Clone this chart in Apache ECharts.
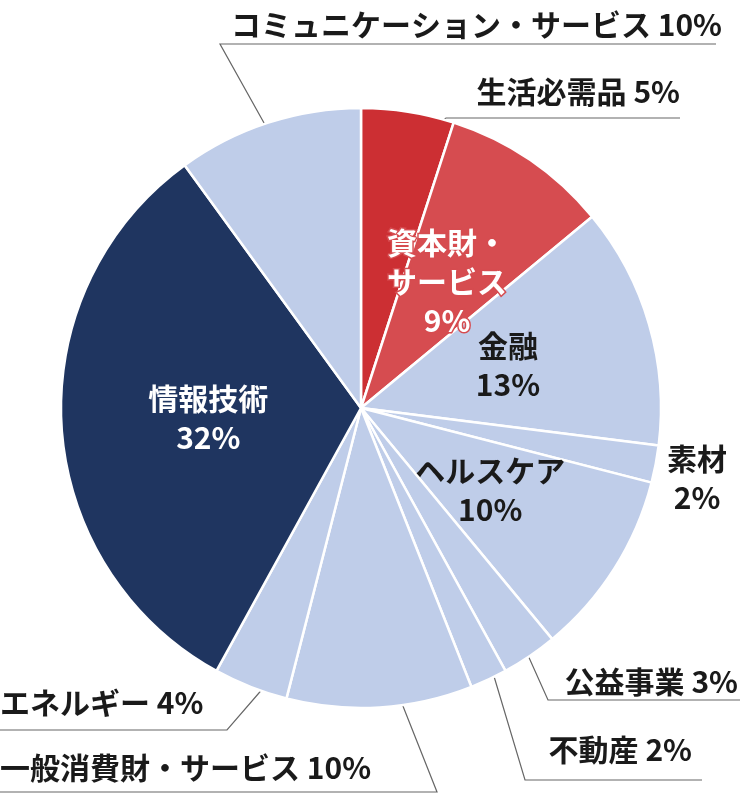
<!DOCTYPE html>
<html><head><meta charset="utf-8">
<script src="https://cdn.jsdelivr.net/npm/echarts@6/dist/echarts.min.js"></script>
<style>html,body{margin:0;padding:0;background:#fff}#c{width:742px;height:794px}</style>
</head><body><div id="c"></div>
<script>
const categories = ['生活必需品','資本財・サービス','金融','素材','ヘルスケア','公益事業','不動産','一般消費財・サービス','エネルギー','情報技術','コミュニケーション・サービス'];
const values = [5,9,13,2,10,3,2,10,4,32,10];
const insideLabels = {1:'資本財・\nサービス\n9%',2:'金融\n13%',4:'ヘルスケア\n10%',9:'情報技術\n32%'};
const colors = ['#cc2f33','#d64c50','#bfcde9','#bfcde9','#bfcde9','#bfcde9','#bfcde9','#bfcde9','#bfcde9','#1f3560','#bfcde9'];
const outside = {
  0:[680,92,'right',[[410,143],[446,118],[680,118]]],
  3:[697,478,'center',[[588,453],[625,460],[655,460]]],
  5:[738,682,'right',[[518,633],[548,700],[740,700]]],
  6:[692,750,'right',[[490,663],[525,780],[702,780]]],
  7:[0,768,'left',[[395,686],[437,792],[0,792]]],
  8:[0,703,'left',[[265,686],[227,730],[0,730]]],
  10:[722,25,'right',[[278,148],[220,44],[716,44]]]
};
const data = categories.map((n,i)=>{
  const d = {name:n, value:values[i], itemStyle:{color:colors[i]}};
  if (insideLabels[i]) {
    d.label = {position:'inside', formatter:insideLabels[i],
      color:(i===1||i===9)?'#fff':'#1a1a1a',
      textBorderColor:i===1?'#d64c50':'transparent', textBorderWidth:i===1?3:0};
    d.labelLine = {show:false};
  } else {
    d.label = {position:'outside', formatter: i===3 ? '素材\n2%' : n+' '+values[i]+'%', color:'#1a1a1a'};
    d.labelLine = {show:true};
  }
  return d;
});
const chart = echarts.init(document.getElementById('c'));
chart.setOption({
  animation:false,
  series:[{
    type:'pie', center:[361,408], radius:300, startAngle:90, clockwise:true,
    itemStyle:{borderColor:'#fff', borderWidth:2.5},
    label:{fontFamily:'Noto Sans CJK JP', fontWeight:'bold', fontSize:30, lineHeight:39, overflow:'none', width:800},
    labelLine:{lineStyle:{color:'#666', width:1.2}},
    labelLayout:function(p){
      const o = outside[p.dataIndex];
      if (!o) return {};
      return {x:o[0], y:o[1], align:o[2], verticalAlign:'middle', labelLinePoints:o[3]};
    },
    data:data
  }]
});
</script></body></html>
